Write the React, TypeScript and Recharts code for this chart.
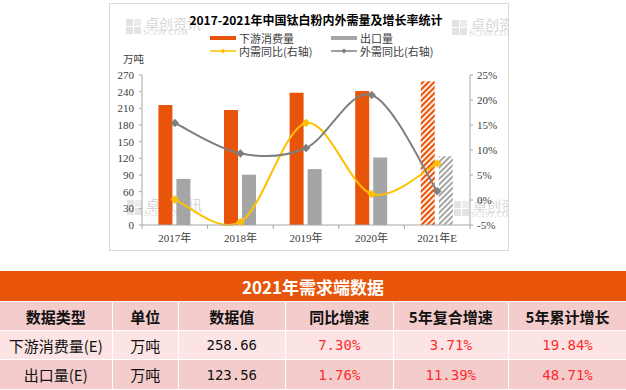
import React from 'react';
import { ComposedChart, Bar, Line, XAxis, YAxis, Cell } from 'recharts';

const years = ['2017年', '2018年', '2019年', '2020年', '2021年E'];
const consumption = [216, 207, 238, 241.06, 258.66];
const exportsVol = [83, 90.5, 100.6, 121.42, 123.56];
const domesticYoY = [0.1, -4.4, 15.4, 1.2, 7.3];
const foreignYoY = [15.4, 9.3, 10.4, 21.0, 1.76];
const leftTicks = [0, 30, 60, 90, 120, 150, 180, 210, 240, 270];
const rightTicks = [-5, 0, 5, 10, 15, 20, 25];

const tableTitle = '2021年需求端数据';
const tableHeaders = ['数据类型', '单位', '数据值', '同比增速', '5年复合增速', '5年累计增长'];
const rowNames = ['下游消费量(E)', '出口量(E)'];
const rowUnits = ['万吨', '万吨'];
const rowValues = ['258.66', '123.56'];
const rowYoY = ['7.30%', '1.76%'];
const rowCagr = ['3.71%', '11.39%'];
const rowCum = ['19.84%', '48.71%'];

const data = years.map((y, i) => ({
  year: y,
  consumption: consumption[i],
  exports: exportsVol[i],
  domestic: domesticYoY[i],
  foreign: foreignYoY[i],
}));

const ORANGE = '#E8550A';
const GRAY_BAR = '#A5A5A5';
const YELLOW = '#FFC000';
const GRAY_LINE = '#7F7F7F';
const AXIS = '#A6A6A6';
const TXT = '#404040';

// Excel-like smooth curve (Catmull-Rom via cubic Bezier)
const smoothCurve: any = (context: any) => {
  let pts: number[][] = [];
  return {
    areaStart() {},
    areaEnd() {},
    lineStart() {
      pts = [];
    },
    lineEnd() {
      if (!pts.length) return;
      context.moveTo(pts[0][0], pts[0][1]);
      for (let i = 0; i < pts.length - 1; i++) {
        const p0 = pts[i - 1] || pts[i];
        const p1 = pts[i];
        const p2 = pts[i + 1];
        const p3 = pts[i + 2] || pts[i + 1];
        const c1x = p1[0] + (p2[0] - p0[0]) / 6;
        const c1y = p1[1] + (p2[1] - p0[1]) / 6;
        const c2x = p2[0] - (p3[0] - p1[0]) / 6;
        const c2y = p2[1] - (p3[1] - p1[1]) / 6;
        context.bezierCurveTo(c1x, c1y, c2x, c2y, p2[0], p2[1]);
      }
    },
    point(x: number, y: number) {
      pts.push([+x, +y]);
    },
  };
};

const Diamond = (props: any) => {
  const { cx, cy, fill } = props;
  if (cx == null || cy == null) return null;
  const r = 4;
  return (
    <path
      d={`M${cx},${cy - r} L${cx + r},${cy} L${cx},${cy + r} L${cx - r},${cy} Z`}
      fill={fill}
      stroke={fill}
      strokeWidth={0.5}
    />
  );
};

const BW = (470 - 142) / years.length;

const XTick = (props: any) => {
  const { x, y, payload, index } = props;
  return (
    <g>
      <line x1={x - BW / 2} x2={x - BW / 2} y1={y} y2={y + 4} stroke={AXIS} />
      {index === years.length - 1 && (
        <line x1={x + BW / 2} x2={x + BW / 2} y1={y} y2={y + 4} stroke={AXIS} />
      )}
      <text
        x={x}
        y={y + 17}
        textAnchor="middle"
        fontSize={11}
        fill={TXT}
        fontFamily="'Liberation Serif', 'Noto Sans CJK SC', serif"
      >
        {payload.value}
      </text>
    </g>
  );
};

const Watermark = ({ left, top }: { left: number; top: number }) => (
  <div style={{ position: 'absolute', left, top, width: 90, height: 20 }}>
    <div style={{ position: 'absolute', left: 0, top: 1, width: 7, height: 7, background: '#e3e3e3' }} />
    <div style={{ position: 'absolute', left: 8, top: 1, width: 7, height: 7, background: '#ececec' }} />
    <div style={{ position: 'absolute', left: 0, top: 9, width: 7, height: 7, background: '#e3e3e3' }} />
    <div style={{ position: 'absolute', left: 8, top: 9, width: 7, height: 7, background: '#e3e3e3' }} />
    <div
      style={{
        position: 'absolute',
        left: 19,
        top: -3,
        fontSize: 14,
        color: '#d6d6d6',
        fontFamily: "'Noto Sans CJK SC', sans-serif",
        whiteSpace: 'nowrap',
        lineHeight: '16px',
      }}
    >
      卓创资讯
    </div>
    <div
      style={{
        position: 'absolute',
        left: 17,
        top: 11,
        fontSize: 8,
        color: '#d6d6d6',
        fontFamily: "'Liberation Serif', serif",
        whiteSpace: 'nowrap',
        lineHeight: '8px',
        letterSpacing: 0.5,
      }}
    >
      SCI99.COM
    </div>
  </div>
);

const legendText: React.CSSProperties = {
  position: 'absolute',
  fontSize: 11,
  color: TXT,
  fontFamily: "'Noto Sans CJK SC', sans-serif",
  lineHeight: '12px',
  whiteSpace: 'nowrap',
};

const colLefts = [0, 113, 179, 286, 394, 509, 626];
const rowTops = [271, 302, 331, 360, 390];

const cellStyle = (c: number, r: number, bg: string): React.CSSProperties => ({
  position: 'absolute',
  left: colLefts[c],
  top: rowTops[r],
  width: colLefts[c + 1] - colLefts[c] - (c < 5 ? 1.5 : 0),
  height: rowTops[r + 1] - rowTops[r] - 1,
  background: bg,
  display: 'flex',
  alignItems: 'center',
  justifyContent: 'center',
  whiteSpace: 'nowrap',
});

export default function App() {
  const rowsBg = ['#F4CCCC', '#FBE4E3', '#F4CCCC'];
  const headerFont = "'Noto Sans CJK SC', sans-serif";
  const monoFont = "'DejaVu Sans Mono', monospace";
  return (
    <div style={{ position: 'absolute', left: 0, top: 0, width: 626, height: 390, background: '#fff', overflow: 'hidden' }}>
      {/* chart frame */}
      <div
        style={{
          position: 'absolute',
          left: 109,
          top: 3,
          width: 398,
          height: 246,
          border: '1px solid #d9d9d9',
          overflow: 'hidden',
        }}
      >
        <Watermark left={16} top={14} />
        <Watermark left={342} top={15} />
        <Watermark left={17} top={195} />
        <Watermark left={344} top={196} />
      </div>

      <div
        style={{
          position: 'absolute',
          left: 109,
          top: 12,
          width: 414,
          textAlign: 'center',
          fontSize: 12,
          fontWeight: 700,
          color: '#000',
          fontFamily: headerFont,
          lineHeight: '16px',
          whiteSpace: 'nowrap',
        }}
      >
        2017-2021年中国钛白粉内外需量及增长率统计
      </div>

      {/* legend */}
      <div style={{ position: 'absolute', left: 210, top: 36, width: 26, height: 4, background: ORANGE }} />
      <div style={{ ...legendText, left: 239, top: 32 }}>下游消费量</div>
      <div style={{ position: 'absolute', left: 331, top: 36, width: 26, height: 4, background: GRAY_BAR }} />
      <div style={{ ...legendText, left: 360, top: 32 }}>出口量</div>
      <svg style={{ position: 'absolute', left: 208, top: 45 }} width={32} height={12}>
        <line x1={2} x2={28} y1={6} y2={6} stroke={YELLOW} strokeWidth={1.5} />
        <path d="M15,3.5 L17.5,6 L15,8.5 L12.5,6 Z" fill={YELLOW} />
      </svg>
      <div style={{ ...legendText, left: 239, top: 45 }}>内需同比(右轴)</div>
      <svg style={{ position: 'absolute', left: 329, top: 45 }} width={32} height={12}>
        <line x1={2} x2={28} y1={6} y2={6} stroke={GRAY_LINE} strokeWidth={1.5} />
        <path d="M15,3.5 L17.5,6 L15,8.5 L12.5,6 Z" fill={GRAY_LINE} />
      </svg>
      <div style={{ ...legendText, left: 360, top: 45 }}>外需同比(右轴)</div>

      <div style={{ ...legendText, left: 123, top: 53, fontSize: 10.5 }}>万吨</div>

      <div style={{ position: 'absolute', left: 0, top: 0 }}>
        <ComposedChart
          width={626}
          height={260}
          data={data}
          margin={{ top: 75, right: 116, bottom: 10, left: 112 }}
          barCategoryGap="25%"
          barGap={4}
        >
          <defs>
            <pattern id="hatchOrange" width="4" height="4" patternUnits="userSpaceOnUse" patternTransform="rotate(45)">
              <rect x="0" y="0" width="4" height="4" fill="#fff" />
              <rect x="0" y="0" width="2.2" height="4" fill={ORANGE} />
            </pattern>
            <pattern id="hatchGray" width="4" height="4" patternUnits="userSpaceOnUse" patternTransform="rotate(45)">
              <rect x="0" y="0" width="4" height="4" fill="#fff" />
              <rect x="0" y="0" width="2" height="4" fill={GRAY_BAR} />
            </pattern>
          </defs>
          <XAxis
            dataKey="year"
            xAxisId="x"
            height={25}
            axisLine={{ stroke: AXIS }}
            tickLine={false}
            tickSize={0}
            tickMargin={0}
            tick={<XTick />}
            interval={0}
          />
          <YAxis
            yAxisId="left"
            orientation="left"
            width={30}
            domain={[0, 270]}
            ticks={leftTicks}
            interval={0}
            axisLine={{ stroke: AXIS }}
            tickLine={{ stroke: AXIS }}
            tickSize={3}
            tickMargin={5}
            tick={{ fontSize: 11, fill: TXT, fontFamily: "'Liberation Serif', serif" }}
          />
          <YAxis
            yAxisId="right"
            orientation="right"
            width={40}
            domain={[-5, 25]}
            ticks={rightTicks}
            interval={0}
            axisLine={{ stroke: AXIS }}
            tickLine={{ stroke: AXIS }}
            tickSize={3}
            tickMargin={4}
            tickFormatter={(v: number) => `${v}%`}
            tick={{ fontSize: 11, fill: TXT, fontFamily: "'Liberation Serif', serif" }}
          />
          <Bar dataKey="consumption" xAxisId="x" yAxisId="left" fill={ORANGE} isAnimationActive={false}>
            {data.map((d, i) => (
              <Cell key={`c${i}`} fill={i === data.length - 1 ? 'url(#hatchOrange)' : ORANGE} />
            ))}
          </Bar>
          <Bar dataKey="exports" xAxisId="x" yAxisId="left" fill={GRAY_BAR} isAnimationActive={false}>
            {data.map((d, i) => (
              <Cell key={`e${i}`} fill={i === data.length - 1 ? 'url(#hatchGray)' : GRAY_BAR} />
            ))}
          </Bar>
          <Line
            dataKey="domestic"
            xAxisId="x"
            yAxisId="right"
            type={smoothCurve}
            stroke={YELLOW}
            strokeWidth={2}
            dot={<Diamond fill={YELLOW} />}
            activeDot={false}
            isAnimationActive={false}
          />
          <Line
            dataKey="foreign"
            xAxisId="x"
            yAxisId="right"
            type={smoothCurve}
            stroke={GRAY_LINE}
            strokeWidth={2}
            dot={<Diamond fill={GRAY_LINE} />}
            activeDot={false}
            isAnimationActive={false}
          />
        </ComposedChart>
      </div>

      {/* table */}
      <div
        style={{
          position: 'absolute',
          left: 0,
          top: rowTops[0],
          width: 626,
          height: rowTops[1] - rowTops[0] - 1,
          background: ORANGE,
          color: '#fff',
          fontWeight: 700,
          fontSize: 17,
          fontFamily: headerFont,
          display: 'flex',
          alignItems: 'center',
          justifyContent: 'center',
        }}
      >
        {tableTitle}
      </div>
      {tableHeaders.map((h, c) => (
        <div
          key={`h${c}`}
          style={{ ...cellStyle(c, 1, rowsBg[0]), fontWeight: 700, fontSize: 15, fontFamily: headerFont, color: '#111' }}
        >
          {h}
        </div>
      ))}
      {rowNames.map((name, r) => {
        const bg = rowsBg[r + 1];
        const cells = [name, rowUnits[r], rowValues[r], rowYoY[r], rowCagr[r], rowCum[r]];
        return cells.map((t, c) => (
          <div
            key={`r${r}c${c}`}
            style={{
              ...cellStyle(c, r + 2, bg),
              fontSize: c < 2 ? 15 : 14,
              fontFamily: c < 2 ? headerFont : monoFont,
              color: c >= 3 ? '#FF2B2B' : '#111',
            }}
          >
            {t}
          </div>
        ));
      })}
    </div>
  );
}
